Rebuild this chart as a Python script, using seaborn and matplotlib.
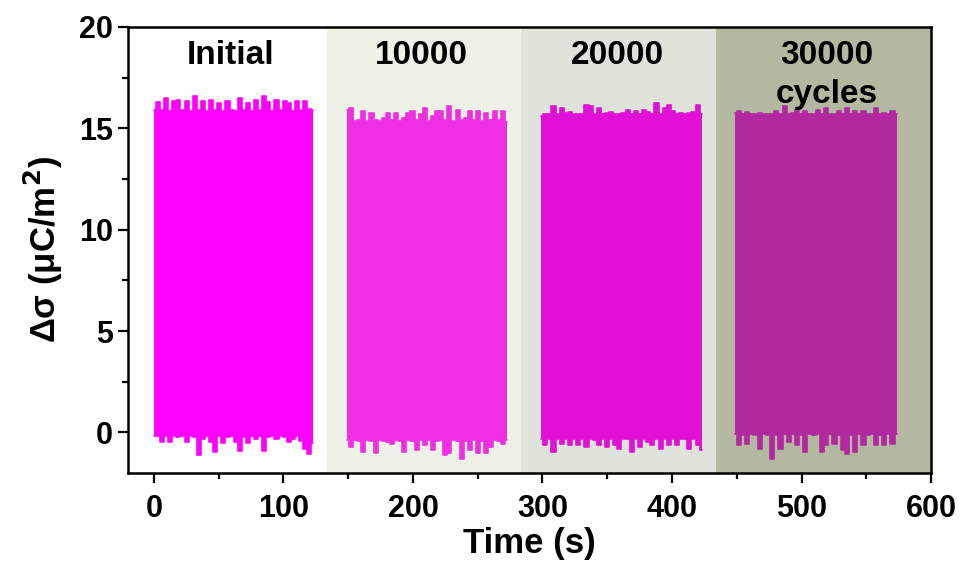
import numpy as np
import pandas as pd
import matplotlib
matplotlib.use('Agg')
import matplotlib.pyplot as plt
from matplotlib.ticker import MultipleLocator
import seaborn as sns

# Bloques de medicion (inicio, fin en s) y envolventes
block_names = ['Initial', '10000', '20000', '30000']
block_start = [0, 149, 299, 448.5]
block_end = [123, 272.5, 423, 573.5]

top_initial = [15.9, 16.3, 15.9, 16.5, 15.85, 16.35, 16.4, 15.9, 16.35, 15.85, 16.6, 15.9, 16.35, 15.85,
               16.4, 15.9, 16.25, 15.85, 16.35, 15.9, 15.85, 16.5, 15.9, 16.25, 15.85, 16.4, 15.9, 16.6,
               16.3, 15.85, 16.4, 15.9, 16.35, 16.25, 15.85, 16.35, 15.9, 16.35, 15.95, 15.9]
bot_initial = [-0.2, -0.2, -0.45, -0.2, -0.45, -0.2, -0.25, -0.2, -0.45, -0.2, -0.25, -1.1, -0.3, -0.2,
               -0.45, -0.95, -0.2, -0.5, -0.25, -0.2, -0.45, -0.9, -0.25, -0.5, -0.2, -0.3, -0.2, -0.9,
               -0.25, -0.2, -0.3, -0.2, -0.25, -0.45, -0.3, -0.2, -0.4, -0.8, -1.05, -0.5]

top_10000 = [15.9, 16.0, 15.35, 15.4, 15.85, 15.35, 15.75, 15.4, 15.35, 15.5, 15.75, 15.4, 15.75, 15.35,
             15.5, 15.75, 15.85, 15.4, 15.7, 16.0, 15.35, 15.6, 15.85, 15.85, 15.4, 16.1, 15.35, 15.9,
             15.4, 15.5, 15.85, 15.4, 15.85, 15.35, 15.75, 15.4, 15.85, 15.4, 15.85, 15.3]
bot_10000 = [-0.35, -0.7, -0.35, -0.4, -0.95, -0.35, -0.4, -1.0, -0.35, -0.4, -0.45, -0.55, -0.35, -0.4,
             -0.95, -0.35, -0.4, -0.85, -0.35, -0.6, -0.35, -0.85, -0.4, -0.35, -1.1, -1.0, -0.35, -0.4,
             -1.3, -0.4, -0.85, -0.35, -1.0, -0.4, -1.0, -0.7, -0.35, -0.4, -0.55, -0.35]

top_20000 = [15.6, 15.7, 15.7, 16.1, 15.7, 16.0, 15.75, 15.8, 15.7, 15.7, 15.7, 16.15, 16.1, 15.7,
             16.0, 15.7, 15.75, 15.8, 15.7, 15.7, 15.75, 15.9, 15.7, 15.85, 15.7, 15.9, 15.8, 15.7,
             16.25, 15.7, 16.0, 16.15, 15.85, 15.7, 15.75, 15.7, 15.75, 15.8, 16.15, 15.7]
bot_20000 = [-0.3, -0.6, -0.3, -0.95, -0.3, -0.55, -0.3, -0.6, -0.3, -0.6, -0.3, -0.7, -0.3, -0.35,
             -0.6, -0.3, -0.7, -0.3, -0.6, -0.8, -0.3, -0.3, -0.95, -0.3, -0.7, -0.3, -0.45, -0.6,
             -0.3, -0.8, -0.3, -0.6, -0.3, -0.6, -0.3, -0.3, -0.8, -0.3, -0.6, -0.85]

top_30000 = [15.75, 15.85, 15.7, 15.8, 15.7, 15.7, 15.75, 15.7, 15.7, 15.7, 15.85, 15.7, 16.1, 15.7,
             15.75, 15.9, 15.7, 15.85, 15.7, 15.7, 15.9, 15.7, 16.0, 15.7, 15.7, 15.85, 15.7, 16.0,
             15.7, 15.85, 15.7, 15.85, 15.7, 15.7, 16.0, 15.7, 15.75, 15.7, 15.85, 15.7]
bot_30000 = [-0.1, -0.6, -0.15, -0.55, -0.1, -0.15, -0.8, -0.1, -0.15, -1.3, -0.15, -0.8, -0.1, -0.45,
             -0.1, -0.6, -0.15, -0.95, -0.1, -0.15, -0.1, -0.95, -0.6, -0.1, -0.55, -0.15, -0.85, -1.05,
             -0.15, -0.95, -0.1, -0.6, -0.15, -0.1, -0.6, -0.15, -0.6, -0.1, -0.55, -0.1]

tops = [top_initial, top_10000, top_20000, top_30000]
bots = [bot_initial, bot_10000, bot_20000, bot_30000]
block_colors = ['#ff00ff', '#f02fe2', '#e010d6', '#b2289f']

# Zonas de fondo
zone_edges = [-20, 133.6, 283.4, 434, 600]
zone_colors = ['#ffffff', '#eef1e5', '#dfe3da', '#b3b8a1']

sns.set_style('ticks')
plt.rcParams['font.family'] = ['Liberation Sans', 'DejaVu Sans']
plt.rcParams['font.weight'] = 'bold'
plt.rcParams['text.color'] = 'black'
plt.rcParams['axes.labelcolor'] = 'black'
plt.rcParams['xtick.color'] = 'black'
plt.rcParams['ytick.color'] = 'black'

fig = plt.figure(figsize=(9.67, 5.68), dpi=100)
ax = fig.add_axes([0.1324, 0.1673, 0.8304, 0.7852])

for i in range(4):
    ax.axvspan(zone_edges[i], zone_edges[i + 1], color=zone_colors[i], lw=0, zorder=0)

rows = []
for name, s, e, top, bot in zip(block_names, block_start, block_end, tops, bots):
    t = np.linspace(s, e, len(top))
    for ti, hi, lo in zip(t, top, bot):
        rows.append({'block': name, 'time': ti, 'top': hi, 'bottom': lo})
df = pd.DataFrame(rows)

for name, c in zip(block_names, block_colors):
    d = df[df['block'] == name]
    ax.fill_between(d['time'], d['bottom'], d['top'], color=c, lw=0, step='mid', zorder=2)
    sns.lineplot(data=d, x='time', y='top', color=c, lw=1.2, drawstyle='steps-mid', ax=ax, zorder=2)
    sns.lineplot(data=d, x='time', y='bottom', color=c, lw=1.2, drawstyle='steps-mid', ax=ax, zorder=2)

ax.set_xlim(-20, 600)
ax.set_ylim(-2, 20)
ax.xaxis.set_major_locator(MultipleLocator(100))
ax.xaxis.set_minor_locator(MultipleLocator(50))
ax.yaxis.set_major_locator(MultipleLocator(5))
ax.yaxis.set_minor_locator(MultipleLocator(2.5))
ax.tick_params(which='major', direction='out', length=7, width=1.6, labelsize=22)
ax.tick_params(which='minor', direction='out', length=4, width=1.6)
ax.tick_params(axis='x', pad=8)
ax.tick_params(axis='y', pad=4)
for sp in ax.spines.values():
    sp.set_linewidth(1.8)
    sp.set_color('black')

for lab in ax.get_xticklabels() + ax.get_yticklabels():
    lab.set_fontweight('bold')

ax.set_xlabel('Time (s)', fontsize=25, fontweight='bold', labelpad=2)
ax.set_ylabel('Δσ (μC/m$^\\mathbf{2}$)', fontsize=25, fontweight='bold', labelpad=10)

ax.text(59.5, 18.6, 'Initial', ha='center', va='center', fontsize=24, fontweight='bold')
ax.text(206.5, 18.6, '10000', ha='center', va='center', fontsize=24, fontweight='bold')
ax.text(357.5, 18.6, '20000', ha='center', va='center', fontsize=24, fontweight='bold')
ax.text(519.5, 18.6, '30000', ha='center', va='center', fontsize=24, fontweight='bold')
ax.text(519.5, 16.65, 'cycles', ha='center', va='center', fontsize=24, fontweight='bold')

fig.savefig('out.png', dpi=100)
